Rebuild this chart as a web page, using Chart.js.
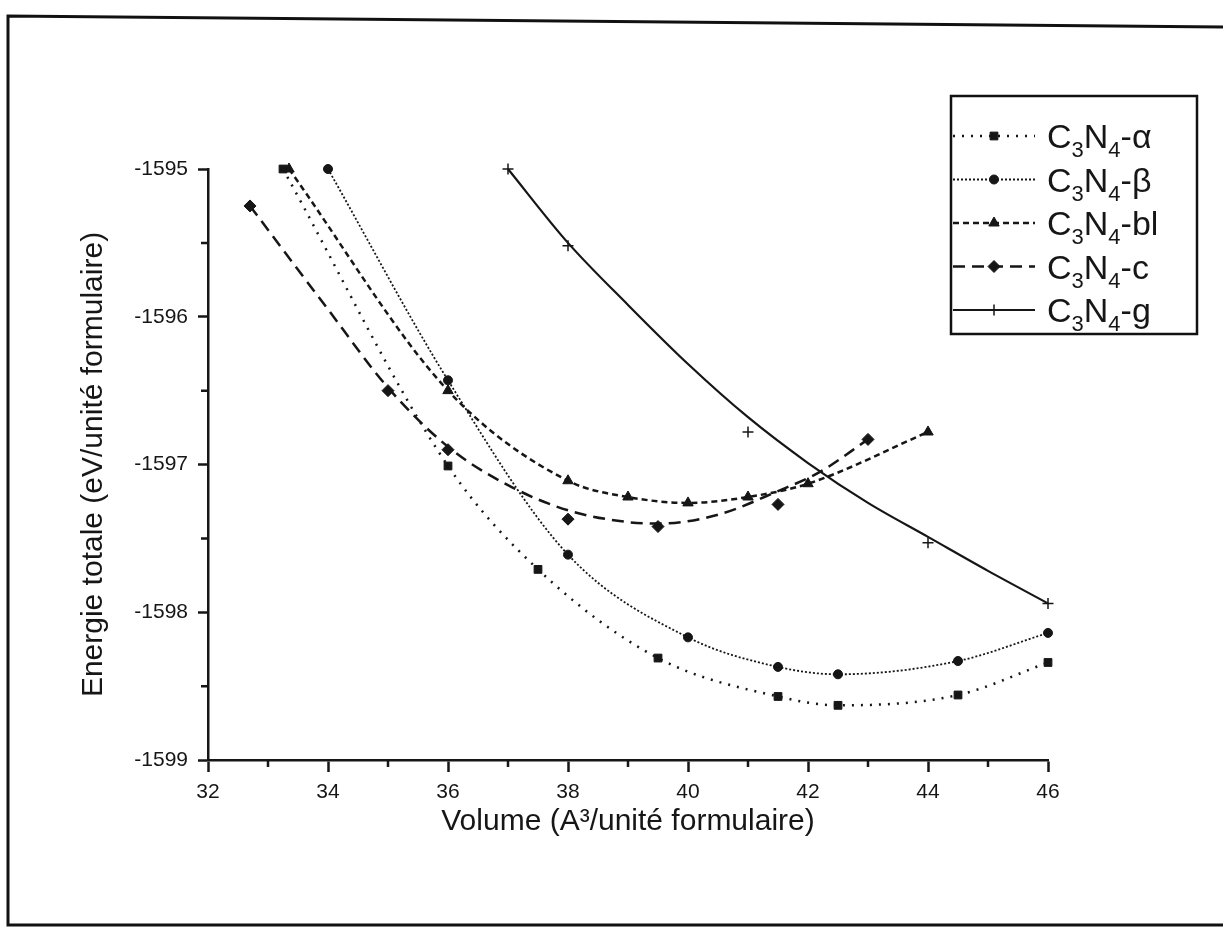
<!DOCTYPE html>
<html>
<head>
<meta charset="utf-8">
<script src="https://cdn.jsdelivr.net/npm/chart.js@4.4.0/dist/chart.umd.min.js"></script>
<style>
  html, body { margin: 0; padding: 0; background: #fff; }
  #wrap { width: 1223px; height: 930px; }
</style>
</head>
<body>
<div id="wrap"><canvas id="energyChart" width="1223" height="930"></canvas></div>
<script>
const xTicks = [32, 34, 36, 38, 40, 42, 44, 46];
const yTicks = [-1599, -1598, -1597, -1596, -1595];

// points (marqueurs)
const volAlpha = [33.25, 36, 37.5, 39.5, 41.5, 42.5, 44.5, 46];
const eAlpha = [-1595.0, -1597.01, -1597.71, -1598.31, -1598.57, -1598.63, -1598.56, -1598.34];

const volBeta = [34.0, 36, 38, 40, 41.5, 42.5, 44.5, 46];
const eBeta = [-1595.0, -1596.43, -1597.61, -1598.17, -1598.37, -1598.42, -1598.33, -1598.14];

const volBl = [33.35, 36, 38, 39, 40, 41, 42, 44];
const eBl = [-1595.0, -1596.5, -1597.11, -1597.22, -1597.26, -1597.22, -1597.13, -1596.78];

const volC = [32.7, 35, 36, 38, 39.5, 41.5, 43];
const eC = [-1595.25, -1596.5, -1596.9, -1597.37, -1597.42, -1597.27, -1596.83];

const volG = [37, 38, 41, 44, 46];
const eG = [-1595.0, -1595.52, -1596.78, -1597.53, -1597.94];

// courbes d'ajustement (c et g ne passent pas par tous les points)
const fitVolC = [32.7, 34, 35, 36, 37, 38, 39, 39.5, 40.5, 41.5, 42.2, 43];
const fitEC = [-1595.25, -1595.95, -1596.48, -1596.88, -1597.14, -1597.31, -1597.39, -1597.40, -1597.34, -1597.18, -1597.05, -1596.83];

const fitVolG = [37, 38, 39, 40, 41, 42, 43, 44, 45, 46];
const fitEG = [-1595.0, -1595.50, -1595.92, -1596.32, -1596.68, -1596.99, -1597.26, -1597.49, -1597.72, -1597.94];

const FONT = "'Liberation Sans', Arial, Helvetica, sans-serif";
const INK = '#161616';

function pts(xs, ys) {
	return xs.map((x, i) => ({ x: x, y: ys[i] }));
}

const series = [
	{ name: 'α', vol: volAlpha, e: eAlpha, style: 'rect', radius: 5.5, dash: [2, 7], width: 2.5 },
	{ name: 'β', vol: volBeta, e: eBeta, style: 'circle', radius: 4.5, dash: [2, 2], width: 1.8 },
	{ name: 'bl', vol: volBl, e: eBl, style: 'triangle', radius: 6, dash: [6, 4], width: 2.5 },
	{ name: 'c', vol: volC, e: eC, style: 'rectRot', radius: 6, dash: [12, 7], width: 2.5, fitVol: fitVolC, fitE: fitEC },
	{ name: 'g', vol: volG, e: eG, style: 'cross', radius: 5.5, dash: [], width: 2.2, fitVol: fitVolG, fitE: fitEG }
];

const datasets = [];
series.forEach(s => {
	datasets.push({
		label: s.name + ' (courbe)',
		data: s.fitVol ? pts(s.fitVol, s.fitE) : pts(s.vol, s.e),
		showLine: true,
		cubicInterpolationMode: 'monotone',
		borderColor: INK,
		borderWidth: s.width,
		borderDash: s.dash,
		pointRadius: 0,
		clip: false
	});
	datasets.push({
		label: s.name,
		data: pts(s.vol, s.e),
		showLine: false,
		pointStyle: s.style,
		pointRadius: s.radius,
		pointBackgroundColor: INK,
		pointBorderColor: INK,
		pointBorderWidth: s.style === 'cross' ? 1.5 : 1,
		clip: false
	});
});

// cadre extérieur + fond blanc
const framePlugin = {
	id: 'frame',
	beforeDraw(chart) {
		const c = chart.ctx;
		c.save();
		c.fillStyle = '#fff';
		c.fillRect(0, 0, chart.width, chart.height);
		c.strokeStyle = '#111';
		c.lineWidth = 3;
		c.beginPath();
		c.moveTo(1223, 27);
		c.lineTo(8, 16);
		c.lineTo(8, 925);
		c.lineTo(1223, 925);
		c.stroke();
		c.restore();
	}
};

// petites graduations intermédiaires
const minorTicks = {
	id: 'minorTicks',
	afterDraw(chart) {
		const c = chart.ctx, xs = chart.scales.x, ys = chart.scales.y;
		c.save();
		c.strokeStyle = INK;
		c.lineWidth = 2.5;
		c.beginPath();
		for (let i = 0; i < xTicks.length - 1; i++) {
			const px = xs.getPixelForValue((xTicks[i] + xTicks[i + 1]) / 2);
			c.moveTo(px, xs.top);
			c.lineTo(px, xs.top + 7);
		}
		for (let i = 0; i < yTicks.length - 1; i++) {
			const py = ys.getPixelForValue((yTicks[i] + yTicks[i + 1]) / 2);
			c.moveTo(ys.right, py);
			c.lineTo(ys.right - 7, py);
		}
		c.stroke();
		c.restore();
	}
};

function drawMarker(c, style, x, y, r) {
	if (Chart.helpers && Chart.helpers.drawPoint) {
		Chart.helpers.drawPoint(c, { pointStyle: style, radius: r, rotation: 0, borderWidth: 1 }, x, y);
	}
}

// légende encadrée avec indices
const boxLegend = {
	id: 'boxLegend',
	afterDraw(chart) {
		const c = chart.ctx;
		const left = 951, top = 96, right = 1197, bottom = 334;
		c.save();
		c.strokeStyle = '#111';
		c.lineWidth = 2.5;
		c.strokeRect(left, top, right - left, bottom - top);
		series.forEach((s, i) => {
			const y = 136 + i * 43.5;
			c.strokeStyle = INK;
			c.lineWidth = s.width;
			c.setLineDash(s.dash);
			c.beginPath();
			c.moveTo(left + 2, y);
			c.lineTo(left + 84, y);
			c.stroke();
			c.setLineDash([]);
			c.fillStyle = INK;
			c.strokeStyle = INK;
			c.lineWidth = s.style === 'cross' ? 1.5 : 1;
			drawMarker(c, s.style, left + 43, y, s.radius);
			// texte C3N4-x
			let tx = left + 96;
			const ty = y + 12;
			c.textBaseline = 'alphabetic';
			c.textAlign = 'left';
			const big = '34px ' + FONT, small = '22px ' + FONT;
			const parts = [['C', big, 0], ['3', small, 9], ['N', big, 0], ['4', small, 9], ['-' + s.name, big, 0]];
			parts.forEach(p => {
				c.font = p[1];
				c.fillText(p[0], tx, ty + p[2]);
				tx += c.measureText(p[0]).width;
			});
		});
		c.restore();
	}
};

const chart = new Chart(document.getElementById('energyChart').getContext('2d'), {
	type: 'scatter',
	data: { datasets: datasets },
	plugins: [framePlugin, minorTicks, boxLegend],
	options: {
		responsive: false,
		animation: false,
		layout: { padding: { left: 0, right: 175, top: 169, bottom: 0 } },
		plugins: {
			legend: { display: false },
			tooltip: { enabled: false }
		},
		scales: {
			x: {
				type: 'linear',
				min: 32,
				max: 46,
				afterBuildTicks: s => { s.ticks = xTicks.map(v => ({ value: v })); },
				afterFit: s => { s.height = 170; },
				grid: { drawOnChartArea: false, tickLength: 12, tickWidth: 2.5, tickColor: INK },
				border: { display: true, color: INK, width: 2.5 },
				ticks: { color: INK, font: { family: FONT, size: 21 }, padding: 8, maxRotation: 0, callback: v => String(v) },
				title: { display: true, text: 'Volume (A³/unité formulaire)', color: INK, font: { family: FONT, size: 30 }, padding: { top: 0, bottom: 90 } }
			},
			y: {
				type: 'linear',
				min: -1599,
				max: -1595,
				afterBuildTicks: s => { s.ticks = yTicks.map(v => ({ value: v })); },
				afterFit: s => { s.width = 208; },
				grid: { drawOnChartArea: false, tickLength: 10, tickWidth: 2.5, tickColor: INK },
				border: { display: true, color: INK, width: 2.5 },
				ticks: { color: INK, font: { family: FONT, size: 21 }, padding: 10, callback: v => String(v) },
				title: { display: true, text: 'Energie totale (eV/unité formulaire)', color: INK, font: { family: FONT, size: 30 }, padding: { top: 76, bottom: 0 } }
			}
		}
	}
});
</script>
</body>
</html>
